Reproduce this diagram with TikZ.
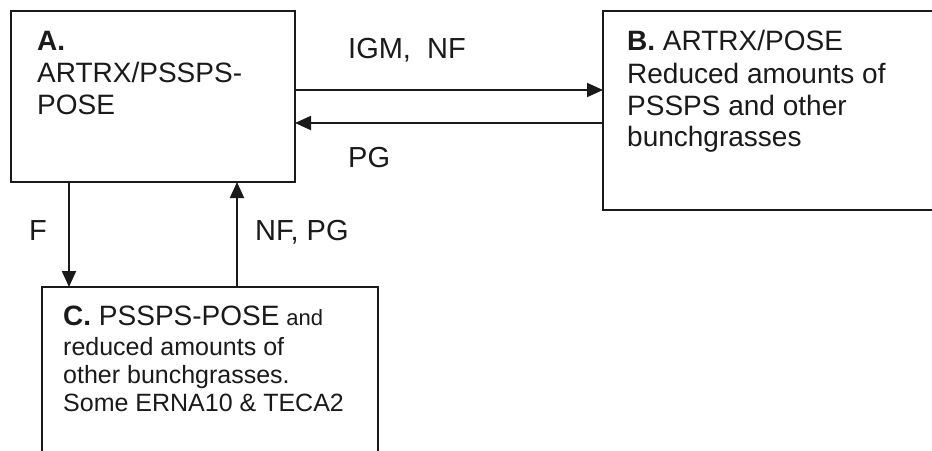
\documentclass[tikz,border=0pt]{standalone}
\usepackage{fontspec}
\setmainfont{Liberation Sans}
\usetikzlibrary{arrows.meta}
\definecolor{ink}{HTML}{1A1A1A}
\tikzset{
  box/.style={draw=ink, line width=2pt, anchor=north west, inner sep=0pt, outer sep=0pt},
  txt/.style={anchor=base west, inner sep=0pt, text=ink},
  lbl/.style={anchor=base west, inner sep=0pt, text=ink, font=\fontsize{29}{32}\selectfont},
  arr/.style={draw=ink, line width=2pt, -{Triangle[length=16pt,width=14pt]}}
}
\begin{document}
\begin{tikzpicture}[x=1pt,y=-1pt]
\useasboundingbox (0,0) rectangle (932,450);
\clip (0,0) rectangle (932,450);
\fill[white] (0,0) rectangle (932,450);
% boxes
\node[box, minimum width=284pt, minimum height=171pt] (A) at (11,11) {};
\node[box, minimum width=340pt, minimum height=199pt] (B) at (603,11) {};
\node[box, minimum width=336pt, minimum height=180pt] (C) at (42,287) {};
% box texts
\node[txt] (At) at (37,50) {\fontsize{28}{32}\selectfont%
  \begin{tabular}[t]{@{}l@{}}\textbf{A.}\\ARTRX/PSSPS-\\POSE\end{tabular}};
\node[txt] (Bt) at (627,50) {\fontsize{28}{31.5}\selectfont%
  \begin{tabular}[t]{@{}l@{}}\textbf{B.} ARTRX/POSE\\[2pt]Reduced amounts of\\PSSPS and other\\bunchgrasses\end{tabular}};
\node[txt] (Ct) at (63,325) {\fontsize{25}{28}\selectfont%
  \begin{tabular}[t]{@{}l@{}}{\fontsize{28}{28}\selectfont\textbf{C.} PSSPS-POSE} {\fontsize{22}{28}\selectfont and}\\[2pt]reduced amounts of\\other bunchgrasses.\\Some ERNA10 \& TECA2\end{tabular}};
% connectors
\coordinate (y1) at (0,90);
\coordinate (y2) at (0,123);
\coordinate (x1) at (69,0);
\coordinate (x2) at (237,0);
\draw[arr] (A.east |- y1) -- (B.west |- y1);
\draw[arr] (B.west |- y2) -- (A.east |- y2);
\draw[arr] (A.south -| x1) -- (C.north -| x1);
\draw[arr] (C.north -| x2) -- (A.south -| x2);
% labels
\node[lbl] (l1) at (348,58) {IGM,\ \ NF};
\node[lbl] (l2) at (348,167) {PG};
\node[lbl] (l3) at (29,240) {F};
\node[lbl] (l4) at (255,240) {NF, PG};
\end{tikzpicture}
\end{document}
